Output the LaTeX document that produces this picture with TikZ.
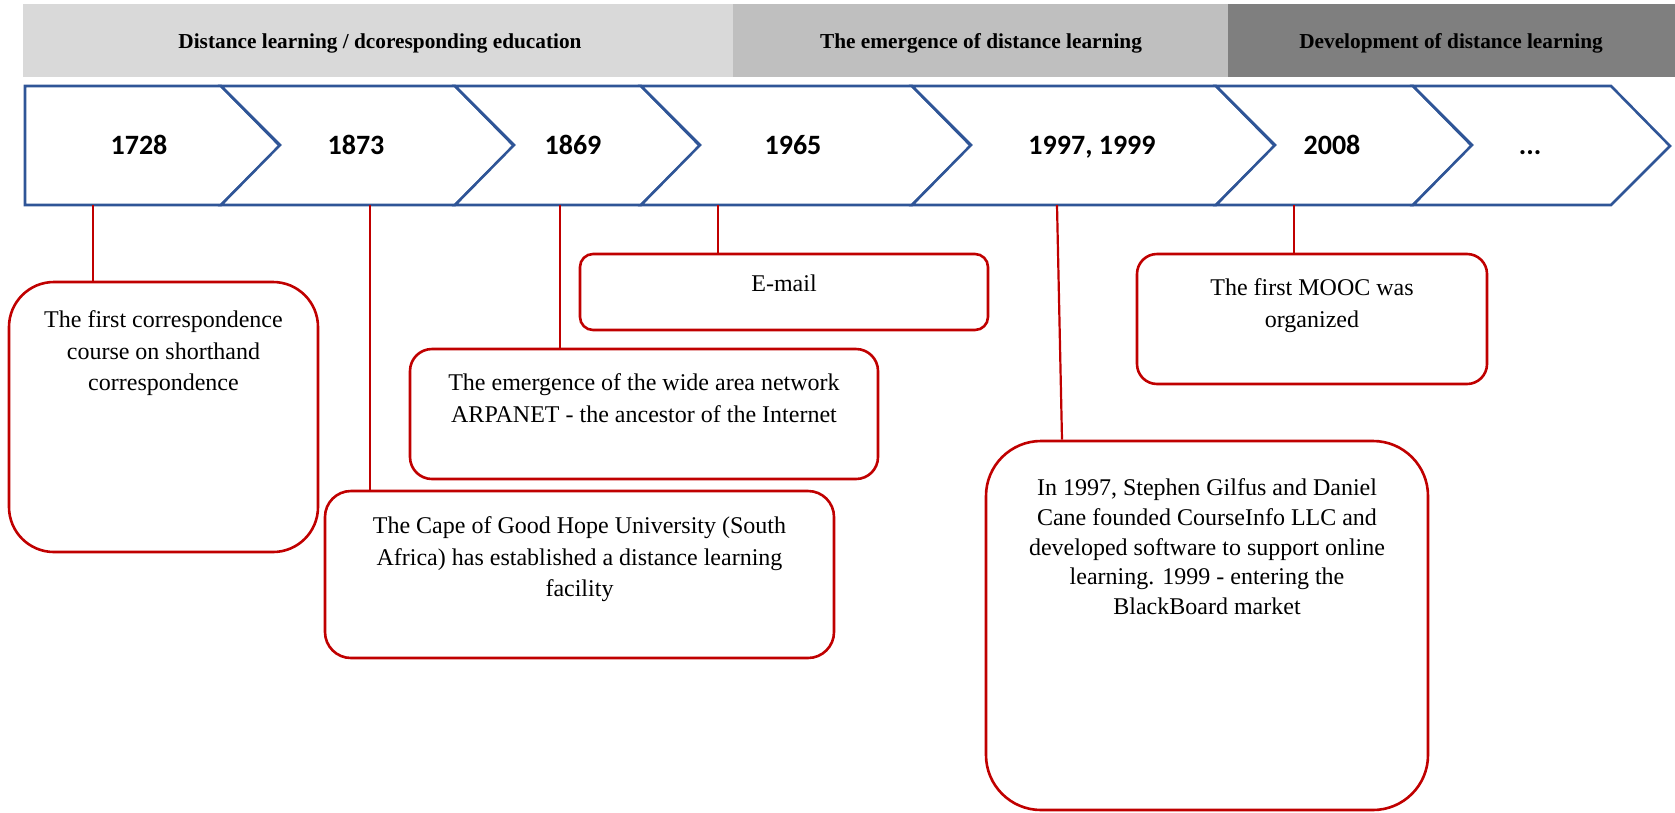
\documentclass[tikz,border=0pt]{standalone}
\usepackage{fontspec}
\setmainfont{Liberation Serif}
\newfontfamily\calibri{Carlito}
\usetikzlibrary{positioning}

\definecolor{chevblue}{HTML}{2F5597}
\definecolor{boxred}{HTML}{C00000}
\definecolor{bandA}{HTML}{D9D9D9}
\definecolor{bandB}{HTML}{BFBFBF}
\definecolor{bandC}{HTML}{7F7F7F}

\tikzset{
  chev/.style={draw=chevblue, line width=2.6pt, fill=white, line join=miter},
  year/.style={font=\calibri\bfseries\fontsize{28}{32}\selectfont, inner sep=0pt, anchor=base},
  phase/.style={font=\bfseries\fontsize{21.3}{25}\selectfont, inner sep=0pt},
  event/.style={draw=boxred, line width=2.6pt, fill=white, inner sep=0pt},
  evtext/.style={align=center, inner sep=0pt, font=\fontsize{24}{31.3}\selectfont},
  link/.style={draw=boxred, line width=2.2pt},
}

\begin{document}
\begin{tikzpicture}[x=1pt, y=-1pt]
    \useasboundingbox (0,0) rectangle (1675,812);

    % Phase bands
    \fill[bandA] (23,4) rectangle (733,77);
    \fill[bandB] (733,4) rectangle (1228,77);
    \fill[bandC] (1228,4) rectangle (1675,77);
    \node[phase] (pA) at (380,43) {Distance learning / dcoresponding education};
    \node[phase] (pB) at (981,43) {The emergence of distance learning};
    \node[phase] (pC) at (1451,43) {Development of distance learning};

    % Chevrons
    \draw[chev] (25,86) -- (221,86) -- ++(59,60) -- (221,205) -- (25,205) -- cycle;
    \foreach \l/\c in {221/455, 455/641, 641/912, 912/1216, 1216/1413, 1413/1611}
        \draw[chev] (\l,86) -- (\c,86) -- ++(59,60) -- (\c,205) -- (\l,205) -- ++(59,-60) -- cycle;

    % Years
    \node[year] (y1728) at (139,154) {1728};
    \node[year] (y1873) at (356,154) {1873};
    \node[year] (y1869) at (573,154) {1869};
    \node[year] (y1965) at (793,154) {1965};
    \node[year] (y1997) at (1092,154) {1997, 1999};
    \node[year] (y2008) at (1332,154) {2008};
    \node[year] (ydots) at (1530,154) {...};

    % Event boxes
    \node[event, minimum width=309pt, minimum height=270pt, rounded corners=45pt] (b1728) at (163.5,417) {};
    \node[event, minimum width=509pt, minimum height=167pt, rounded corners=26pt] (b1873) at (579.5,574.5) {};
    \node[event, minimum width=468pt, minimum height=130pt, rounded corners=22pt] (b1869) at (644,414) {};
    \node[event, minimum width=408pt, minimum height=76pt, rounded corners=13pt] (b1965) at (784,292) {};
    \node[event, minimum width=442pt, minimum height=369pt, rounded corners=55pt] (b1997) at (1207,625.5) {};
    \node[event, minimum width=350pt, minimum height=130pt, rounded corners=20pt] (b2008) at (1312,319) {};

    \node[evtext, below=30pt of b1728.north] (t1728) {The first correspondence\\course on shorthand\\correspondence};
    \node[evtext, below=27pt of b1873.north] (t1873) {The Cape of Good Hope University (South\\Africa) has established a distance learning\\facility};
    \node[evtext, below=26pt of b1869.north] (t1869) {The emergence of the wide area network\\ARPANET - the ancestor of the Internet};
    \node[evtext, below=22pt of b1965.north] (t1965) {E-mail};
    \node[evtext, below=39pt of b1997.north, font=\fontsize{24}{29.6}\selectfont] (t1997) {In 1997, Stephen Gilfus and Daniel\\Cane founded CourseInfo LLC and\\developed software to support online\\learning. 1999 - entering the\\BlackBoard market};
    \node[evtext, below=26pt of b2008.north] (t2008) {The first MOOC was\\organized};

    % Connectors
    \coordinate (c1728) at (93,205);
    \coordinate (c1873) at (370,205);
    \coordinate (c1869) at (560,205);
    \coordinate (c1965) at (718,205);
    \coordinate (c1997) at (1057,205);
    \coordinate (c2008) at (1294,205);
    \draw[link] (c1728) -- (c1728 |- b1728.north);
    \draw[link] (c1873) -- (c1873 |- b1873.north);
    \draw[link] (c1869) -- (c1869 |- b1869.north);
    \draw[link] (c1965) -- (c1965 |- b1965.north);
    \draw[link] (c1997) -- ([xshift=-145pt]b1997.north);
    \draw[link] (c2008) -- (c2008 |- b2008.north);
\end{tikzpicture}
\end{document}
